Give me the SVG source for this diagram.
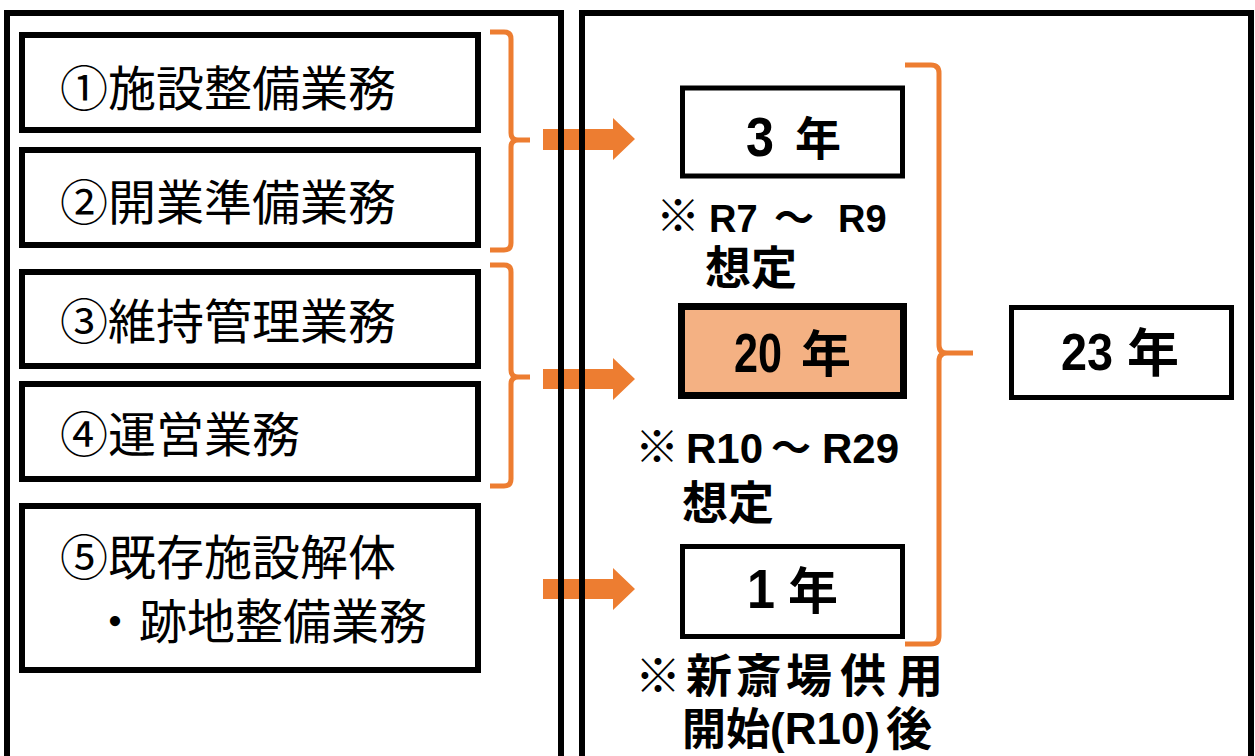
<svg xmlns="http://www.w3.org/2000/svg" width="1255" height="756" viewBox="0 0 1255 756">
<style>
.panel{fill:none;stroke:#000;stroke-width:6}
.box{fill:#fff;stroke:#000;stroke-width:6}
.rbox{fill:#fff;stroke:#000;stroke-width:5}
.hbox{fill:#F4B183;stroke:#000;stroke-width:7}
.lbl{font-family:"Noto Sans CJK JP","Noto Sans CJK SC",sans-serif;font-size:48px;fill:#000}
.num{font-family:"Liberation Sans",Arial,sans-serif;font-weight:700;fill:#000}
.cjkb{font-family:"Noto Sans CJK JP","Noto Sans CJK SC",sans-serif;font-weight:700;fill:#000}
.brace{fill:none;stroke:#ED7D31;stroke-width:5;stroke-linejoin:round;stroke-linecap:butt}
.arrow{fill:#ED7D31}
</style>
<rect width="1255" height="756" fill="#fff"/>
<g id="connectors">
<path class="brace" d="M490,32 H504 Q511,32 511,39 V133 Q511,140 518,140 H530 M518,140 Q511,140 511,147 V243 Q511,250 504,250 H490"/>
<path class="brace" d="M490,265 H504 Q511,265 511,272 V370 Q511,377 518,377 H530 M518,377 Q511,377 511,384 V479 Q511,486 504,486 H490"/>
<path class="brace" d="M905,65 H931 Q939,65 939,73 V345 Q939,353 947,353 H973 M947,353 Q939,353 939,361 V636 Q939,644 931,644 H905"/>
<polygon class="arrow" points="543,129 613,129 613,118 635,139 613,160 613,150 543,150"/>
<polygon class="arrow" points="543,369 613,369 613,358 635,379 613,400 613,389 543,389"/>
<polygon class="arrow" points="543,579 613,579 613,568 635,589 613,610 613,599 543,599"/>
</g>
<g id="panels">
<rect class="panel" x="7" y="13" width="554" height="780"/>
<rect class="panel" x="582" y="13" width="669" height="780"/>
</g>
<g id="n1"><rect class="box" x="22" y="35" width="456" height="95"/><text class="lbl" x="60" y="106">①施設整備業務</text></g>
<g id="n2"><rect class="box" x="22" y="150" width="456" height="95"/><text class="lbl" x="60" y="220">②開業準備業務</text></g>
<g id="n3"><rect class="box" x="22" y="272" width="456" height="94"/><text class="lbl" x="60" y="339">③維持管理業務</text></g>
<g id="n4"><rect class="box" x="22" y="384" width="456" height="95"/><text class="lbl" x="60" y="452">④運営業務</text></g>
<g id="n5"><rect class="box" x="22" y="506" width="456" height="164"/><text class="lbl" x="60" y="575">⑤既存施設解体<tspan x="91" y="639">・跡地整備業務</tspan></text></g>
<g id="y3"><rect class="rbox" x="682.5" y="88" width="220" height="88"/><text class="num" x="746" y="156" font-size="56" textLength="28" lengthAdjust="spacingAndGlyphs">3</text><text class="cjkb" x="795" y="155" font-size="46">年</text></g>
<g id="note1"><text class="cjkb" y="232"><tspan x="656" font-size="44">※</tspan><tspan class="num" x="709" font-size="38">R7</tspan><tspan x="774" font-size="40">～</tspan><tspan class="num" x="838" font-size="38">R9</tspan><tspan x="705" y="284" font-size="46">想定</tspan></text></g>
<g id="y20"><rect class="hbox" x="681.5" y="306.5" width="222" height="89"/><text class="num" x="734" y="372" font-size="56" textLength="48" lengthAdjust="spacingAndGlyphs">20</text><text class="cjkb" x="801" y="372" font-size="50">年</text></g>
<g id="note2"><text class="cjkb" y="463"><tspan x="635" font-size="44">※</tspan><tspan class="num" x="686" font-size="42">R10</tspan><tspan x="771" y="462" font-size="40">～</tspan><tspan class="num" x="822" y="463" font-size="42">R29</tspan><tspan x="682" y="519" font-size="46">想定</tspan></text></g>
<g id="y1"><rect class="rbox" x="682.5" y="546.5" width="220" height="90"/><text class="num" x="747" y="608" font-size="56" textLength="28" lengthAdjust="spacingAndGlyphs">1</text><text class="cjkb" x="788" y="609" font-size="50">年</text></g>
<g id="note3"><text class="cjkb" y="692" font-size="46"><tspan x="635 686 736 786 840 897">※新斎場供用</tspan><tspan x="682" y="745" font-size="44">開始</tspan><tspan class="num" x="770" y="744" font-size="44">(R10)</tspan><tspan x="886" y="745">後</tspan></text></g>
<g id="y23"><rect class="rbox" x="1011.5" y="307.5" width="220" height="90"/><text class="num" x="1061" y="370" font-size="52" textLength="52" lengthAdjust="spacingAndGlyphs">23</text><text class="cjkb" x="1127" y="372" font-size="52">年</text></g>
</svg>
